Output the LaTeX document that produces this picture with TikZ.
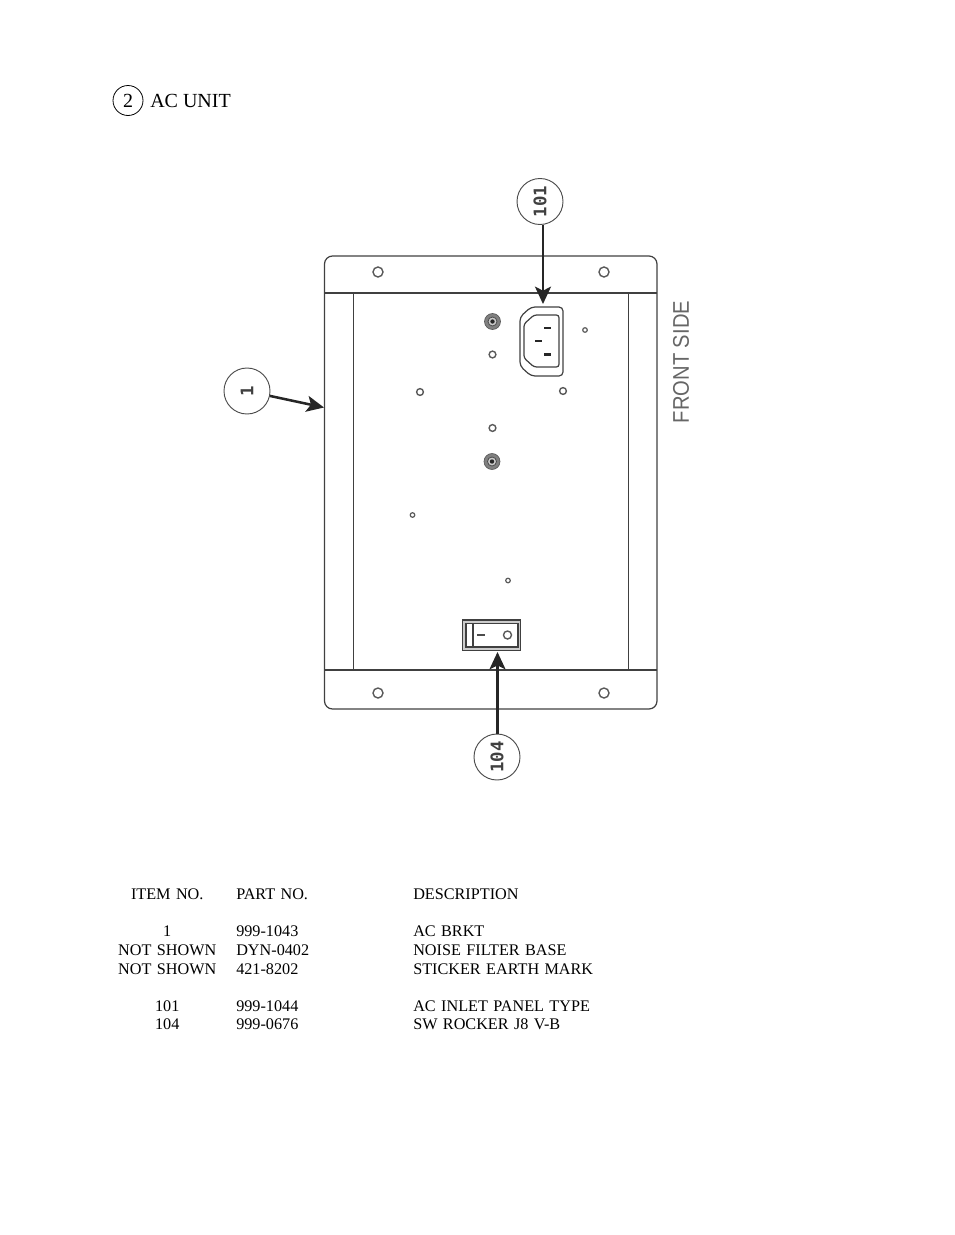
\documentclass[tikz,border=0pt]{standalone}
\usepackage{fontspec}
\setmainfont{Liberation Serif}
\setsansfont{Liberation Sans}
\setmonofont{DejaVu Sans Mono}
\usetikzlibrary{arrows.meta,matrix,positioning,calc}
\tikzset{
	plate/.style={draw=black!75, line width=0.9pt},
	hole/.style={draw=black!65, line width=1.05pt},
	callout/.style={circle, draw=black!70, line width=0.7pt, minimum size=34.5pt, inner sep=0pt},
	calloutnum/.style={font=\fontsize{13}{13}\ttfamily\bfseries, text=black!75, rotate=90},
	leader/.style={draw=black!85, line width=1.9pt, -{Stealth[length=13pt,width=12pt,inset=3pt]}},
}
\begin{document}
\begin{tikzpicture}[x=0.75pt, y=-0.75pt]
		\useasboundingbox (0,0) rectangle (954,1235);
		% heading
		\node[circle, draw, line width=0.6pt, minimum size=22.5pt, inner sep=0pt, font=\fontsize{15}{15}\selectfont] (headno) at (128,100.5) {2};
		\node[anchor=base west, inner sep=0pt, font=\fontsize{15}{15}\selectfont] (headtxt) at (150,107) {AC UNIT};
		% bracket
		\draw[plate, rounded corners=6pt] (324.5,256) rectangle (657,709);
		\draw[plate, line width=1.3pt] (324.5,293.3) -- (657,293.3);
		\draw[plate, line width=1.3pt] (324.5,670) -- (657,670);
		\draw[plate] (353.5,293.3) -- (353.5,670);
		\draw[plate] (628.5,293.3) -- (628.5,670);
		% holes
		\foreach \hx/\hy in {378/272, 604/272, 378/693, 604/693}
			\draw[hole] (\hx,\hy) circle (5);
		\foreach \hx/\hy in {492.5/354.5, 420/392, 563/391, 492.5/428}
			\draw[hole] (\hx,\hy) circle (3.4);
		\foreach \hx/\hy in {585/330, 412.5/515, 508/580.5}
			\draw[hole, line width=0.9pt] (\hx,\hy) circle (2.3);
		\foreach \hx/\hy in {492.5/321.5, 492/461.5} {
			\draw[hole, fill=black!50, line width=0.5pt] (\hx,\hy) circle (8);
			\draw[draw=black!70, line width=0.6pt, fill=black!20] (\hx,\hy) circle (4.5);
			\fill[black!85] (\hx,\hy) circle (2.2);
		}
		% inlet
		\draw[plate, rounded corners=3pt] (531,307) -- (563,307) -- (563,376) -- (531,376) -- (520,366) -- (520,317) -- cycle;
		\draw[plate, rounded corners=2pt] (534,315) -- (559,315) -- (559,367) -- (534,367) -- (524,358) -- (524,324) -- cycle;
		\foreach \px/\py in {547.5/328, 538.5/341, 547.5/354.5}
			\draw[black!85, line width=2.2pt] ($(\px,\py)+(-3.5,0)$) -- ($(\px,\py)+(3.5,0)$);
		% rocker
		\draw[plate, fill=black!20] (462.5,620) rectangle (520.5,650.5);
		\draw[plate, fill=white] (466,623.5) rectangle (518,647);
		\draw[plate] (473,623.5) -- (473,647);
		\draw[black!70, line width=0.9pt] (477,635) -- (485,635);
		\draw[hole] (507.5,635) circle (4);
		% label
		\node[font=\sffamily\fontsize{17}{17}\selectfont, text=black!60, rotate=90, xscale=0.89, inner sep=0pt] (frontlbl) at (681,362) {FRONT SIDE};
		% callouts
		\node[callout] (c101) at (540,201.5) {};
		\node[calloutnum] at (c101) {101};
		\node[callout] (c1) at (247,391) {};
		\node[calloutnum] at (c1) {1};
		\node[callout] (c104) at (497,757) {};
		\node[calloutnum] at (c104) {104};
		\coordinate (tip101) at (543,304);
		\coordinate (tip1) at (324,407.5);
		\coordinate (tip104) at (497.5,652);
		\draw[leader] (c101.south -| tip101) -- (tip101);
		\draw[leader] (c1) -- (tip1);
		\draw[leader] (c104.north -| tip104) -- (tip104);
		% parts list
		\matrix (parts) [matrix of nodes, nodes in empty cells, anchor=north west, inner sep=0pt,
			nodes={inner sep=0pt, text height=9pt, text depth=4.93pt, font=\fontsize{12.15}{12.15}\selectfont},
			column 1/.style={nodes={text width=103.5pt, align=center}},
			column 2/.style={nodes={text width=132.75pt, align=left}},
			column 3/.style={nodes={text width=150pt, align=left}}] at (98,887.5)
		{
			ITEM NO.  & PART NO. & DESCRIPTION \\
			{}        & {}       & {} \\
			1         & 999-1043 & AC BRKT \\
			NOT SHOWN & DYN-0402 & NOISE FILTER BASE \\
			NOT SHOWN & 421-8202 & STICKER EARTH MARK \\
			{}        & {}       & {} \\
			101       & 999-1044 & AC INLET PANEL TYPE \\
			104       & 999-0676 & SW ROCKER J8 V-B \\
		};
	\end{tikzpicture}
\end{document}
